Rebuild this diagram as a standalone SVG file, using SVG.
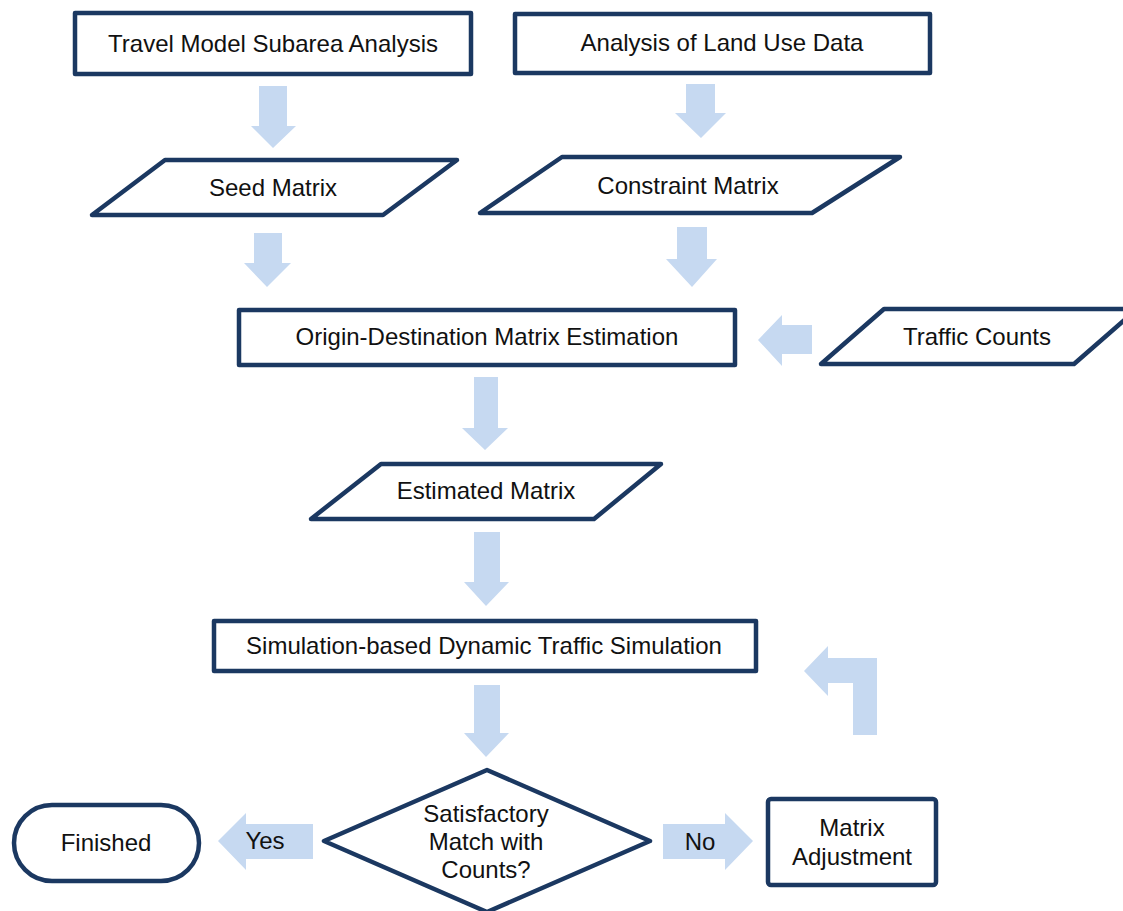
<svg xmlns="http://www.w3.org/2000/svg" width="1123" height="911" viewBox="0 0 1123 911">
<style>
.n{fill:#fff;stroke:#1b3861;stroke-width:4.5;stroke-linejoin:round}
.a{fill:#c6d9f1;stroke:none}
text{font-family:"Liberation Sans",Arial,sans-serif;font-size:24px;fill:#111;text-anchor:middle;dominant-baseline:central}
</style>
<rect width="1123" height="911" fill="#fff"/>
<g id="connectors">
<polygon class="a" points="259,86 287,86 287,126 296,126 273,148 251,126 259,126"/>
<polygon class="a" points="686,84 715,84 715,113 726,113 701,138 675,113 686,113"/>
<polygon class="a" points="254,233 282,233 282,263 291,263 267,287 244,263 254,263"/>
<polygon class="a" points="677,227 707,227 707,259 717,259 692,287 666,259 677,259"/>
<polygon class="a" points="812,325 812,354 782,354 782,366 758,340 782,315 782,325"/>
<polygon class="a" points="474,377 498,377 498,428 508,428 485,450 462,428 474,428"/>
<polygon class="a" points="474,532 500,532 500,582 509,582 486,606 464,582 474,582"/>
<polygon class="a" points="474,685 500,685 500,733 509,733 486,757 464,733 474,733"/>
<polygon class="a" points="313,824 313,859 246,859 246,870 218,841 246,813 246,824"/>
<polygon class="a" points="663,824 725,824 725,813 753,841 725,870 725,859 663,859"/>
<polygon class="a" points="853,735 877,735 877,658 828,658 828,646 804,671 828,696 828,683 853,683"/>
<text x="265" y="840">Yes</text>
<text x="700" y="841">No</text>
</g>
<g id="n1"><rect class="n" x="75" y="13" width="396" height="61"/><text x="273" y="43">Travel Model Subarea Analysis</text></g>
<g id="n2"><rect class="n" x="515" y="14" width="415" height="59"/><text x="722" y="42">Analysis of Land Use Data</text></g>
<g id="n3"><polygon class="n" points="165,160 457,160 383,215 92,215"/><text x="273" y="187">Seed Matrix</text></g>
<g id="n4"><polygon class="n" points="562,157 900,157 812,213 480,213"/><text x="688" y="185">Constraint Matrix</text></g>
<g id="n5"><rect class="n" x="239" y="310" width="496" height="55"/><text x="487" y="336">Origin-Destination Matrix Estimation</text></g>
<g id="n6"><polygon class="n" points="884,309 1137,309 1074,364 821,364"/><text x="977" y="336">Traffic Counts</text></g>
<g id="n7"><polygon class="n" points="381,464 661,464 594,519 311,519"/><text x="486" y="490">Estimated Matrix</text></g>
<g id="n8"><rect class="n" x="214" y="621" width="542" height="50"/><text x="484" y="645">Simulation-based Dynamic Traffic Simulation</text></g>
<g id="n9"><polygon class="n" points="487,770 650,841 487,912 324,841"/><text x="486" y="813">Satisfactory</text><text x="486" y="841">Match with</text><text x="486" y="869">Counts?</text></g>
<g id="n10"><rect class="n" x="14" y="805" width="185" height="76" rx="38"/><text x="106" y="842">Finished</text></g>
<g id="n11"><rect class="n" x="768" y="799" width="168" height="86" rx="3"/><text x="852" y="827">Matrix</text><text x="852" y="856">Adjustment</text></g>
</svg>
